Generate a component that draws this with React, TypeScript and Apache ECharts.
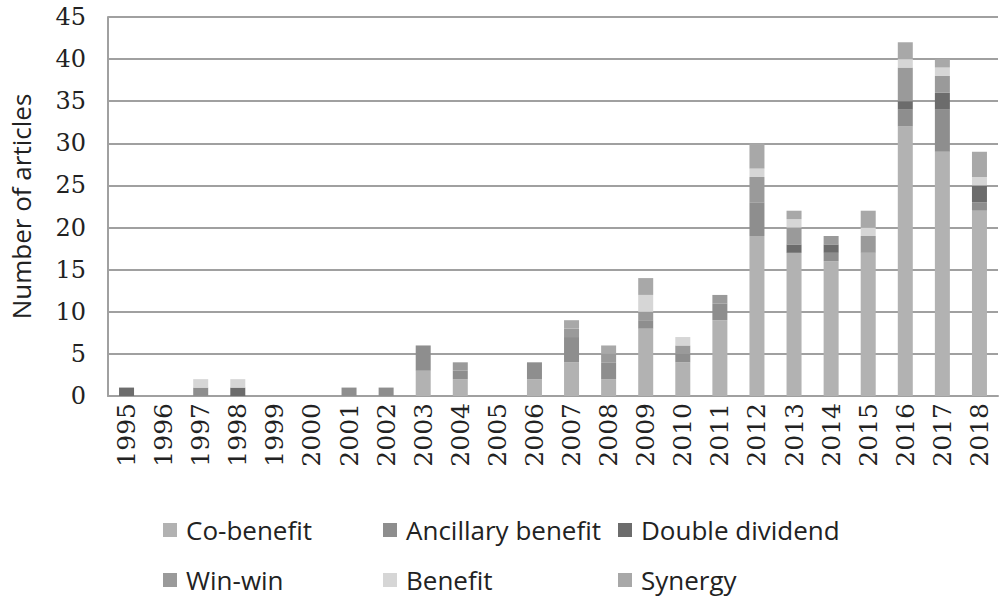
import React, { useEffect, useRef } from "react";
import * as echarts from "echarts";

const years = ["1995","1996","1997","1998","1999","2000","2001","2002","2003","2004","2005","2006","2007","2008","2009","2010","2011","2012","2013","2014","2015","2016","2017","2018"];
const coBenefit =        [0,0,0,0,0,0,0,0,3,2,0,2,4,2,8,4,9,19,17,16,17,32,29,22];
const ancillaryBenefit = [0,0,1,0,0,0,1,1,3,1,0,2,3,2,1,1,2,4,0,1,0,2,5,1];
const doubleDividend =   [1,0,0,1,0,0,0,0,0,0,0,0,0,0,0,0,0,0,1,1,0,1,2,2];
const winWin =           [0,0,0,0,0,0,0,0,0,1,0,0,1,1,1,1,1,3,2,1,2,4,2,0];
const benefit =          [0,0,1,1,0,0,0,0,0,0,0,0,0,0,2,1,0,1,1,0,1,1,1,1];
const synergy =          [0,0,0,0,0,0,0,0,0,0,0,0,1,1,2,0,0,3,1,0,2,2,1,3];
const yTicks = [0,5,10,15,20,25,30,35,40,45];

const seriesDefs = [
  { name: "Co-benefit", data: coBenefit, color: "#b2b2b2" },
  { name: "Ancillary benefit", data: ancillaryBenefit, color: "#8e8e8e" },
  { name: "Double dividend", data: doubleDividend, color: "#6c6c6c" },
  { name: "Win-win", data: winWin, color: "#9a9a9a" },
  { name: "Benefit", data: benefit, color: "#d6d6d6" },
  { name: "Synergy", data: synergy, color: "#a8a8a8" },
];

const legendPos = [
  { left: 163, top: 515 },
  { left: 383, top: 515 },
  { left: 618, top: 515 },
  { left: 163, top: 565 },
  { left: 383, top: 565 },
  { left: 618, top: 565 },
];

export default function App() {
  const ref = useRef<HTMLDivElement>(null);
  useEffect(() => {
    if (!ref.current) return;
    const chart = echarts.init(ref.current, undefined, { renderer: "svg" });
    chart.setOption({
      animation: false,
      backgroundColor: "#ffffff",
      grid: { left: 106, right: 2, top: 17, bottom: 204, containLabel: false },
      legend: seriesDefs.map((s, i) => ({
        data: [s.name],
        left: legendPos[i].left,
        top: legendPos[i].top,
        padding: 0,
        icon: "rect",
        itemWidth: 14,
        itemHeight: 14,
        textStyle: { fontFamily: "Open Sans", fontSize: 26, lineHeight: 30, color: "#222", padding: [0, 0, 0, 4] },
        selectedMode: false,
      })),
      xAxis: {
        type: "category",
        data: years,
        axisLine: { show: true, lineStyle: { color: "#a0a0a0", width: 2 } },
        axisTick: { show: false },
        axisLabel: { rotate: 90, fontFamily: "DejaVu Serif", fontSize: 25, color: "#222", margin: 7, interval: 0 },
      },
      yAxis: {
        type: "value",
        min: 0,
        max: 45,
        interval: 5,
        name: "Number of articles",
        nameLocation: "middle",
        nameGap: 74,
        nameTextStyle: { fontFamily: "Open Sans", fontSize: 26, color: "#222" },
        axisLine: { show: true, lineStyle: { color: "#a0a0a0", width: 2 } },
        axisTick: { show: false },
        axisLabel: {
          fontFamily: "DejaVu Serif", fontSize: 24, color: "#222", margin: 22,
          formatter: (v: number) => (yTicks.includes(v) ? String(v) : ""),
        },
        splitLine: { show: true, lineStyle: { color: "#a0a0a0", width: 2 } },
      },
      series: seriesDefs.map((s) => ({
        name: s.name,
        type: "bar",
        stack: "total",
        data: s.data,
        barWidth: 15,
        itemStyle: { color: s.color },
      })),
    });
    return () => chart.dispose();
  }, []);
  return (
    <div
      ref={ref}
      style={{ position: "fixed", left: 0, top: 0, width: 1000, height: 600, background: "#fff" }}
    />
  );
}
